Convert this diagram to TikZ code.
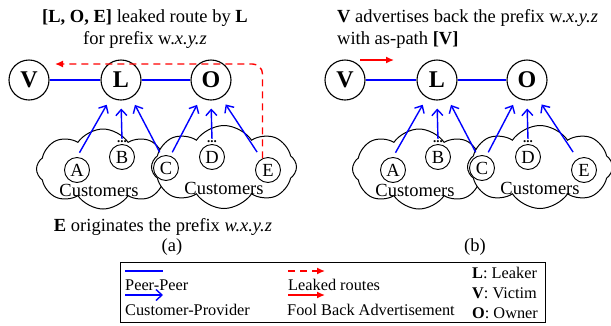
\documentclass[tikz,border=0pt]{standalone}
\usepackage{fontspec}
\setmainfont{Liberation Serif}
\usetikzlibrary{shapes.symbols,arrows.meta}
\begin{document}
\begin{tikzpicture}[x=1pt,y=-1pt,
 big/.style={circle,draw,fill=white,line width=1.1pt,minimum size=40pt,inner sep=0pt,font=\fontsize{24}{24}\selectfont\bfseries},
 small/.style={circle,draw,fill=white,line width=0.9pt,minimum size=25pt,inner sep=0pt,font=\fontsize{18.5}{18.5}\selectfont},
 cust/.style={cloud,draw,fill=white,line width=1pt,cloud puffs=8,cloud puff arc=112,aspect=1.7,inner sep=0pt},
 dots/.style={font=\fontsize{13}{13}\selectfont\bfseries,inner sep=0pt},
 peer/.style={blue,line width=1.4pt},
 cp/.style={blue,line width=1.4pt,-{Straight Barb[length=6pt,width=11pt]}},
 leak/.style={red,dash pattern=on 7pt off 5pt,line width=1.4pt,-{Latex[length=8pt,width=7pt]}},
 fool/.style={red,line width=1.4pt,-{Latex[length=8pt,width=7pt]}},
 txt/.style={font=\fontsize{18.5}{22}\selectfont,inner sep=0pt},
 leg/.style={font=\fontsize{16.3}{18}\selectfont,inner sep=0pt,anchor=west},
 ]
\useasboundingbox (0,0) rectangle (611,325);

\foreach \p/\dx in {a/0,b/316}{
  \begin{scope}[xshift=\dx pt]
  \node[cust,minimum width=133pt,minimum height=80pt,shape border rotate=10] (\p cl) at (103,169) {};
  \node[cust,minimum width=145pt,minimum height=83pt,shape border rotate=-10] (\p cr) at (224,167) {};
  \node[txt] (\p c1) at (99,190) {Customers};
  \node[txt] (\p c2) at (224,188) {Customers};
  \node[small] (\p A) at (77,170) {A};
  \node[small] (\p B) at (122,157) {B};
  \node[small] (\p C) at (166,168) {C};
  \node[small] (\p D) at (212,157) {D};
  \node[small] (\p E) at (268,170) {E};
  \node[dots,anchor=base] (\p Bd) at (122,142) {...};
  \node[dots,anchor=base] (\p Dd) at (212,142) {...};
  \node[big] (\p V) at (29,80) {V};
  \node[big] (\p L) at (121,80) {L};
  \node[big] (\p O) at (211,80) {O};
  \draw[peer] (\p V) -- (\p L);
  \draw[peer] (\p L) -- (\p O);
  \draw[cp,shorten <=5pt,shorten >=8pt] (\p A.north) -- (\p L.-120);
  \draw[cp,shorten <=1pt,shorten >=8pt] (\p Bd.north) -- (\p L.-90);
  \draw[cp,shorten <=4pt,shorten >=8pt] (\p C.110) -- (\p L.-60);
  \draw[cp,shorten <=4pt,shorten >=8pt] (\p C.70) -- (\p O.-120);
  \draw[cp,shorten <=1pt,shorten >=8pt] (\p Dd.north) -- (\p O.-90);
  \draw[cp,shorten <=8pt,shorten >=8pt] (\p E.120) -- (\p O.-60);
  \end{scope}
}

\coordinate (leakend) at (55,64);
\draw[leak,rounded corners=10pt] (aE.115) |- (leakend);

\coordinate (fs) at (360,60);
\coordinate (fe) at (394,60);
\draw[fool] (fs) -- (fe);

\node[txt,align=center] (ta) at (145,29) {\textbf{[L, O, E]} leaked route by \textbf{L}\\for prefix w.\textit{x.y.z}};
\node[txt,align=left,anchor=west] (tb) at (337,29) {\textbf{V} advertises back the prefix w.\textit{x.y.z}\\with as-path \textbf{[V]}};
\node[txt] (te) at (163,227) {\textbf{E} originates the prefix \textit{w.x.y.z}};
\node[txt] (la) at (172,247) {(a)};
\node[txt] (lb) at (475,247) {(b)};

\node[draw,line width=1pt,minimum width=425pt,minimum height=60pt,inner sep=0pt] (legend) at (332.5,292) {};
\coordinate (p1) at (125,271); \coordinate (p2) at (163,271);
\draw[peer] (p1) -- (p2);
\node[leg] (tp) at (125,285) {Peer-Peer};
\coordinate (c1) at (125,295); \coordinate (c2) at (163,295);
\draw[cp] (c1) -- (c2);
\node[leg] (tc) at (125,310) {Customer-Provider};
\coordinate (l1) at (288,271); \coordinate (l2) at (325,271);
\draw[leak] (l1) -- (l2);
\node[leg] (tl) at (288,285) {Leaked routes};
\coordinate (f1) at (288,295); \coordinate (f2) at (325,295);
\draw[fool] (f1) -- (f2);
\node[leg] (tf) at (287,310) {Fool Back Advertisement};
\node[leg] (kl) at (472,273) {\textbf{L}: Leaker};
\node[leg] (kv) at (472,293) {\textbf{V}: Victim};
\node[leg] (ko) at (472,313) {\textbf{O}: Owner};
\end{tikzpicture}
\end{document}
